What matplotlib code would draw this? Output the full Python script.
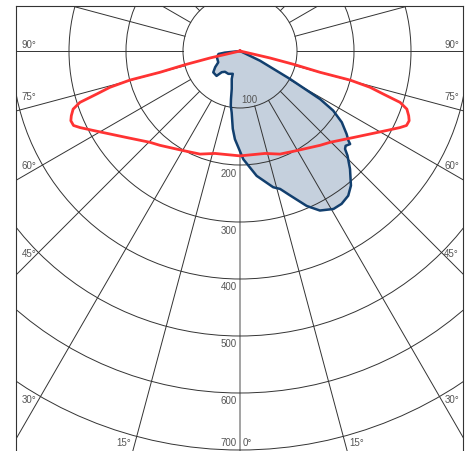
import numpy as np
import matplotlib.pyplot as plt
from matplotlib.patches import Circle

plt.rcParams['font.family'] = ['Liberation Sans', 'DejaVu Sans']

# red plane (symmetric), angle from nadir (deg) and intensity (cd)
red_deg = [0, 13.7, 21.2, 29.6, 40.3, 44.6, 52.6, 61.6, 64.4, 65.9, 67.6,
           69.0, 70.8, 72.2, 73.3, 74.4, 75.2, 75.1, 76.0, 76.9, 90]
red_cd = [184, 185, 194, 201, 217, 225, 250, 293, 311, 320, 321,
          317, 310, 295, 262, 237, 200, 145, 99, 54, 0]

# blue plane (asymmetric), + is right of nadir
blue_deg = [90, 64.1, 60.8, 59.0, 57.4, 55.0, 52.1, 50.4, 49.8, 48.1, 47.0,
            45.8, 43.0, 39.5, 36.8, 33.6, 30.6, 26.6, 23.3, 19.1, 16.2, 13.7,
            7.6, 1.75, -3.3, -5.3, -7.7, -9.6, -10.6, -12.3, -16.5, -17.6,
            -27.0, -35.9, -40.7, -43.3, -51.4, -56.9, -62.5, -74.9, -82.1,
            -83.9, -90]
blue_cd = [0, 39, 100, 164, 194, 218, 237, 247, 253, 249, 252,
           263, 283, 306, 317, 322, 322, 313, 296, 268, 252, 246,
           221, 190, 155, 137, 109, 97, 86, 68, 51, 42,
           45, 45, 49, 60, 60, 52, 43, 42, 38,
           27, 0]

rings = [100, 200, 300, 400, 500, 600, 700]
ring_labels = ['100', '200', '300', '400', '500', '600', '700']
angle_labels = ['90°', '75°', '60°', '45°', '30°', '15°', '0°']

SCALE = 0.57  # px per cd
CX, CY = 240, 52


def px(xp, yp):
    return (xp - CX) / SCALE, -(yp - CY) / SCALE


def to_xy(deg, cd):
    t = np.radians(np.asarray(deg, dtype=float))
    r = np.asarray(cd, dtype=float)
    return r * np.sin(t), -r * np.cos(t)


fig = plt.figure(figsize=(4.68, 4.52), dpi=100)
ax = fig.add_axes([16.3 / 468, 0, 447 / 468, 445 / 452])
x0, _ = px(16.3, 0)
x1, _ = px(463.3, 0)
_, y0 = px(0, 452)
_, y1 = px(0, 7)
ax.set_xlim(x0, x1)
ax.set_ylim(y0, y1)
ax.set_xticks([])
ax.set_yticks([])
for s in ax.spines.values():
    s.set_color('#333333')
    s.set_linewidth(0.8)
ax.spines['bottom'].set_visible(False)

# grid
for a in range(0, 360, 15):
    t = np.radians(a)
    xs = [100 * np.sin(t), 1500 * np.sin(t)]
    ys = [-100 * np.cos(t), -1500 * np.cos(t)]
    if a == 0:
        ax.plot(xs, ys, color='#8a8a8a', lw=1.1, zorder=0.5)
    else:
        ax.plot(xs, ys, color='#333333', lw=0.7, zorder=2)
for r in rings:
    ax.add_patch(Circle((0, 0), r, fill=False, ec='#333333', lw=0.7, zorder=2))

# blue curve
bx, by = to_xy(blue_deg, blue_cd)
ax.fill(bx, by, color='#c5d0dd', lw=0, zorder=1)
ax.plot(bx, by, color='#123f6e', lw=1.8, zorder=3, solid_joinstyle='round')

# red curve, mirrored
full_deg = [-d for d in red_deg[::-1]] + red_deg[1:]
full_cd = red_cd[::-1] + red_cd[1:]
rx, ry = to_xy(full_deg, full_cd)
ax.plot(rx, ry, color='#ff3333', lw=2.0, zorder=4, solid_joinstyle='round')

# ring labels
tc = '#555555'
fs = 7
ax.text(*px(249.5, 100), ring_labels[0], color=tc, fontsize=fs, ha='center', va='center', zorder=5)
ring_y = [174, 231, 287, 344, 401, 443]
for lab, yp in zip(ring_labels[1:], ring_y):
    ax.text(*px(237, yp), lab, color=tc, fontsize=fs, ha='right', va='center', zorder=5)

# angle labels
side_y = [45, 97, 166, 254, 400]
for lab, yp in zip(angle_labels[:5], side_y):
    ax.text(*px(21.5, yp), lab, color=tc, fontsize=fs, ha='left', va='center', zorder=5)
    ax.text(*px(459, yp), lab, color=tc, fontsize=fs, ha='right', va='center', zorder=5)
ax.text(*px(131, 443), angle_labels[5], color=tc, fontsize=fs, ha='right', va='center', zorder=5)
ax.text(*px(349.5, 443), angle_labels[5], color=tc, fontsize=fs, ha='left', va='center', zorder=5)
ax.text(*px(242.5, 443), angle_labels[6], color=tc, fontsize=fs, ha='left', va='center', zorder=5)

fig.savefig('out.png', dpi=100)
